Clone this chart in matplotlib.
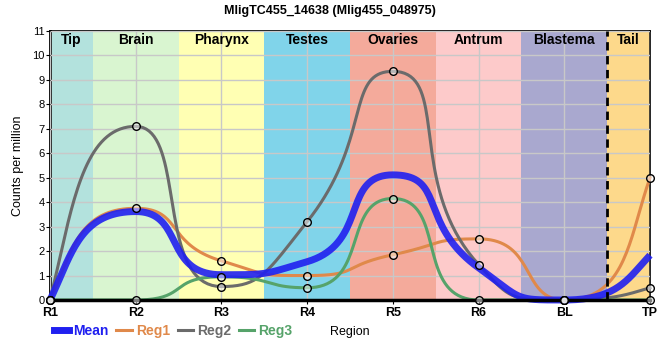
import numpy as np
import matplotlib
matplotlib.use("Agg")
import matplotlib.pyplot as plt
from matplotlib.lines import Line2D

plt.rcParams['font.family'] = ['Liberation Sans', 'DejaVu Sans']

regions = ['R1', 'R2', 'R3', 'R4', 'R5', 'R6', 'BL', 'TP']
reg1 = [0, 3.75, 1.6, 1.0, 1.85, 2.5, 0, 5.0]
reg2 = [0, 7.1, 0.55, 3.2, 9.35, 1.45, 0, 0.5]
reg3 = [0, 0, 0.95, 0.5, 4.15, 0, 0, 0]
mean = list(np.mean([reg1, reg2, reg3], axis=0))

bands = ['Tip', 'Brain', 'Pharynx', 'Testes', 'Ovaries', 'Antrum', 'Blastema', 'Tail']
band_edges = [0, 0.5, 1.5, 2.5, 3.5, 4.5, 5.5, 6.5, 7]
band_colors = ['#b3e2dd', '#d9f5d0', '#ffffb3', '#80d4ea', '#f4aa9b', '#fdcaca', '#a9a8cf', '#fdd98b']

SMOOTH = 0.62


def smooth_path(ax, vals, smooth=SMOOTH, n=40):
    # bezier smoothing in screen space, clamped so there are no false extremes
    pts = ax.transData.transform(np.column_stack([np.arange(len(vals)), vals]))
    px, py = pts[:, 0], pts[:, 1]
    last = len(px) - 1
    out = [pts[0]]
    # first handle: quarter step along x, half the rise
    c0 = pts[0] + np.array([0.25, 0.5]) * (pts[1] - pts[0])
    for i in range(1, len(px)):
        x, y = px[i], py[i]
        x0, y0 = px[i - 1], py[i - 1]
        if i == last:
            c1 = pts[i] - np.array([0.25, 0.5]) * (pts[i] - pts[i - 1])
            nc = None
        else:
            x2, y2 = px[i + 1], py[i + 1]
            vx, vy = x2 - x0, y2 - y0
            lp = np.hypot(x - x0, y - y0)
            ln = np.hypot(x2 - x, y2 - y)
            r = ln / (ln + lp)
            ncx = np.clip(x + vx * smooth * r, min(x2, x), max(x2, x))
            ncy = np.clip(y + vy * smooth * r, min(y2, y), max(y2, y))
            vx, vy = ncx - x, ncy - y
            c1x = np.clip(x - vx * lp / ln, min(x0, x), max(x0, x))
            c1y = np.clip(y - vy * lp / ln, min(y0, y), max(y0, y))
            vx, vy = x - c1x, y - c1y
            c1 = np.array([c1x, c1y])
            nc = np.array([x + vx * ln / lp, y + vy * ln / lp])
        t = np.linspace(0, 1, n)[1:, None]
        p0, p3 = np.array([x0, y0]), np.array([x, y])
        seg = ((1 - t) ** 3) * p0 + 3 * ((1 - t) ** 2) * t * c0 + 3 * (1 - t) * t ** 2 * c1 + t ** 3 * p3
        out.extend(seg)
        c0 = nc
    out = ax.transData.inverted().transform(np.array(out))
    return out[:, 0], out[:, 1]


fig = plt.figure(figsize=(6.6, 3.6), dpi=100)
ax = fig.add_axes([50 / 660, 60 / 360, 600 / 660, 269 / 360])
ax.set_xlim(0, 7)
ax.set_ylim(0, 11)

for i, name in enumerate(bands):
    ax.axvspan(band_edges[i], band_edges[i + 1], color=band_colors[i], zorder=0, lw=0)
    ax.text((band_edges[i] + band_edges[i + 1]) / 2, 10.65, name, ha='center', va='center',
            fontsize=10, fontweight='bold', zorder=5)

ax.grid(True, color='#c8c8c8', lw=1, zorder=1)
ax.set_axisbelow(False)
for gl in ax.get_xgridlines() + ax.get_ygridlines():
    gl.set_zorder(1)

ax.axvline(6.5, color='black', lw=2, ls=(0, (3, 2)), zorder=4)

colors = {'Reg1': '#e0894a', 'Reg2': '#6b6b6b', 'Reg3': '#56a36a'}
for name, vals in [('Reg1', reg1), ('Reg2', reg2), ('Reg3', reg3)]:
    xs, ys = smooth_path(ax, vals)
    ax.plot(xs, ys, color=colors[name], lw=2.2, zorder=3, clip_on=False)

xs, ys = smooth_path(ax, mean)
ax.plot(xs, ys, color='#2020f0', lw=5, alpha=0.9, zorder=3.5, clip_on=False,
        solid_capstyle='butt')

for vals in [reg1, reg2, reg3]:
    ax.plot(range(len(vals)), vals, ls='none', marker='o', ms=5.5,
            mfc=(1, 1, 1, 0.5), mec='black', mew=1, zorder=6, clip_on=False)

ax.set_xticks(range(len(regions)))
ax.set_xticklabels(regions, fontsize=9, fontweight='bold')
ax.set_yticks(range(12))
ax.tick_params(axis='y', labelsize=8, length=3, pad=1)
ax.tick_params(axis='x', length=3, pad=2)
ax.set_ylabel('Counts per million', fontsize=9, labelpad=6)
for side in ['top', 'right']:
    ax.spines[side].set_linewidth(1.2)
ax.spines['left'].set_linewidth(2)
ax.spines['bottom'].set_linewidth(2.5)
ax.spines['bottom'].set_zorder(4)

fig.text(0.5, 0.985, 'MligTC455_14638 (Mlig455_048975)', ha='center', va='top',
         fontsize=9, fontweight='bold')
fig.text(350 / 660, 1 - 332 / 360, 'Region', ha='center', va='center', fontsize=9)

handles = [Line2D([], [], color='#2020f0', lw=5),
           Line2D([], [], color=colors['Reg1'], lw=2.2),
           Line2D([], [], color=colors['Reg2'], lw=2.2),
           Line2D([], [], color=colors['Reg3'], lw=2.2)]
fig.legend(handles, ['Mean', 'Reg1', 'Reg2', 'Reg3'], loc='center left',
           bbox_to_anchor=(54 / 660, 1 - 331 / 360), ncol=4, frameon=False,
           handlelength=1.1, handletextpad=0.3, columnspacing=0.55,
           borderaxespad=0, borderpad=0,
           prop={'size': 10, 'weight': 'bold'}, labelcolor='linecolor')

fig.savefig('out.png', dpi=100)
